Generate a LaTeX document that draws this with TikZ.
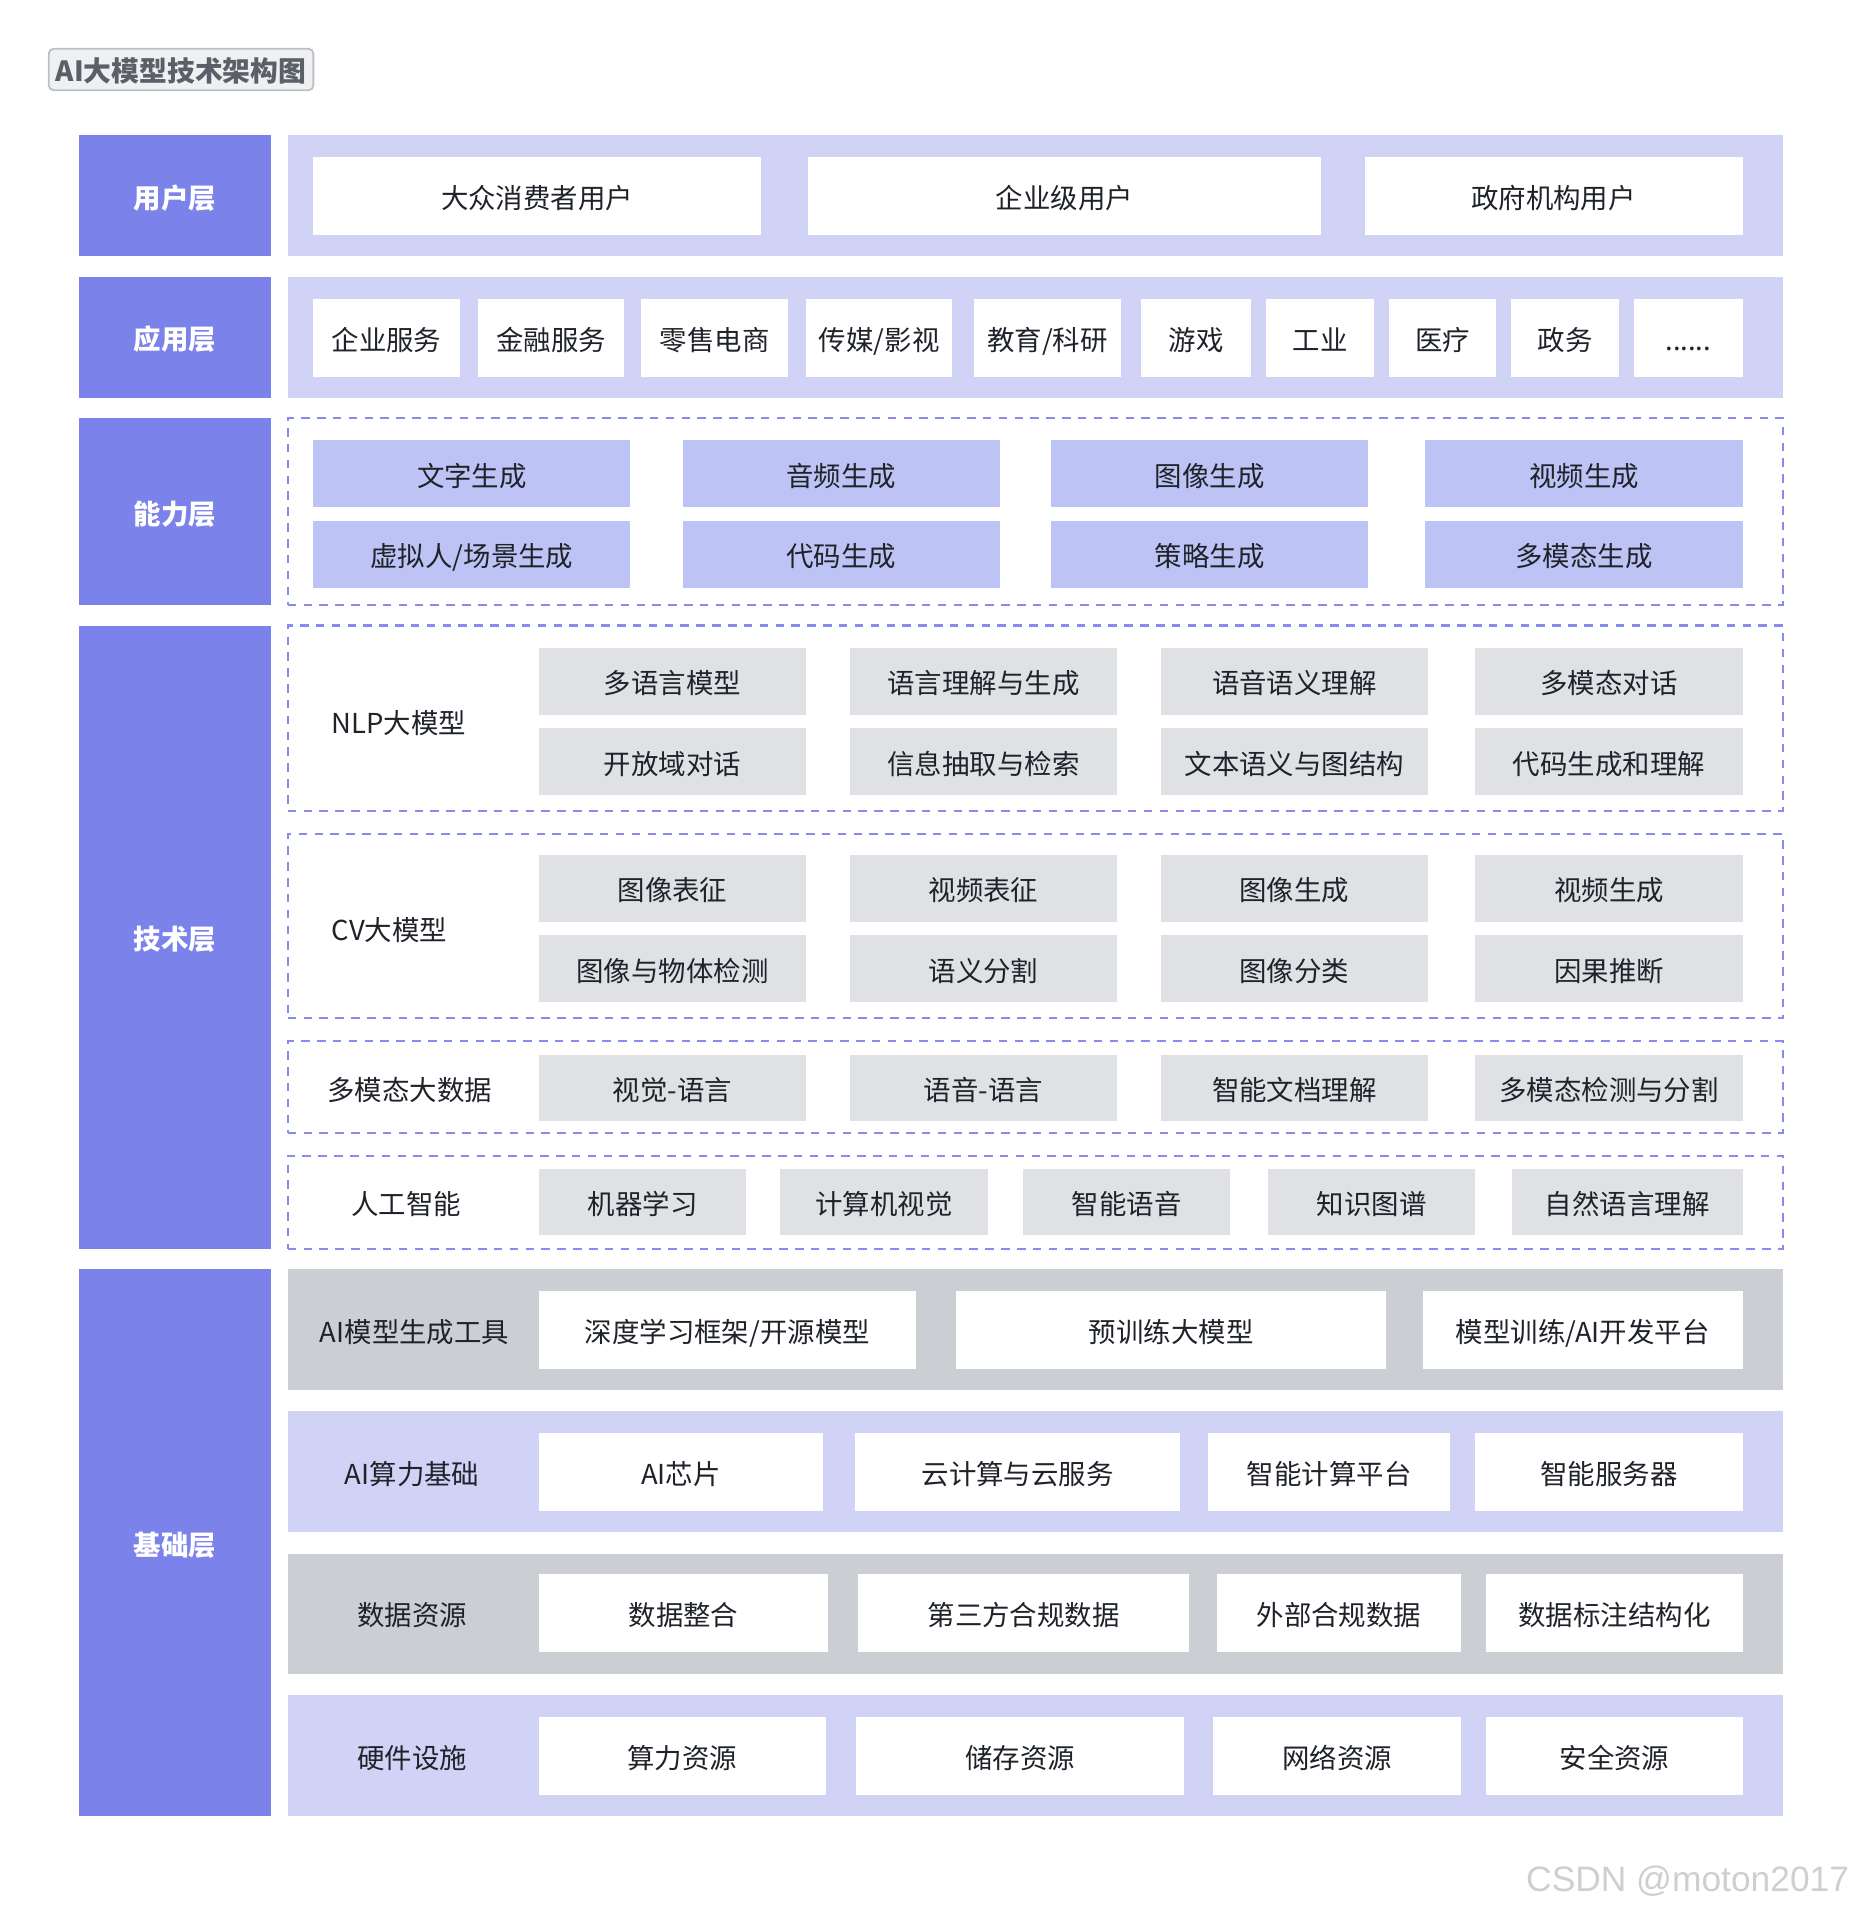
\documentclass[tikz,border=0pt]{standalone}
\usepackage{fontspec}
\setmainfont{Noto Sans CJK SC}
\newfontfamily\markfont{Liberation Sans}
\usepackage{tikz}

\definecolor{layerblue}{HTML}{7B83EB}
\definecolor{dashblue}{HTML}{868CEF}
\definecolor{panelblue}{HTML}{D0D2F6}
\definecolor{abilblue}{HTML}{BEC3F5}
\definecolor{cellgray}{HTML}{E0E1E4}
\definecolor{panelgray}{HTML}{CBCED3}
\definecolor{textdark}{HTML}{1F2329}
\definecolor{titletext}{HTML}{5B6068}
\definecolor{titlefill}{HTML}{EEF0F2}
\definecolor{titleline}{HTML}{BCC0C6}
\definecolor{markgray}{HTML}{CFCFCF}

\tikzset{
  box/.style={inner sep=0pt, outer sep=0pt, anchor=north west, text=textdark,
    text height=20.5pt, text depth=0pt, font=\fontsize{22.5}{27}\selectfont},
  layer/.style={box, fill=layerblue, text=white,
    font=\bfseries\fontsize{22.5}{27}\selectfont, minimum width=157pt},
  panel/.style={box, fill=panelblue, minimum width=1226pt, minimum height=99pt},
  greypanel/.style={panel, fill=panelgray},
  dashframe/.style={box, draw=dashblue, line width=1.8pt,
    dash pattern=on 7pt off 6pt, minimum width=1226pt},
  whitecell/.style={box, fill=white, minimum height=64pt},
  abilcell/.style={box, fill=abilblue, minimum width=260pt, minimum height=55pt},
  techcell/.style={box, fill=cellgray, minimum height=55pt},
  rowlabel/.style={box, anchor=center},
}

\begin{document}
\begin{tikzpicture}[x=1pt,y=-1pt]

    \useasboundingbox[fill=white] (0,0) rectangle (1520,1568);

    % Title
    \node[box, anchor=center, fill=titlefill, draw=titleline, line width=1.5pt,
      rounded corners=4pt, minimum width=217pt, minimum height=34pt,
      text=titletext, text height=19.5pt, font=\bfseries\fontsize{22.8}{27}\selectfont]
      (title) at (148.5,57) {AI大模型技术架构图};

    % User layer
    \node[layer, minimum height=99pt] (ul) at (65,111) {用户层};
    \node[panel] (up) at (236,111) {};

    %% Boxes
    \node[whitecell, minimum width=367pt] (u1) at (257,129) {大众消费者用户};
    \node[whitecell, minimum width=420pt] (u2) at (663,129) {企业级用户};
    \node[whitecell, minimum width=310pt] (u3) at (1119,129) {政府机构用户};

    % Application layer
    \node[layer, minimum height=99pt] (al) at (65,227) {应用层};
    \node[panel] (ap) at (236,227) {};

    %% Boxes
    \node[whitecell, minimum width=120pt] (a1) at (257,245) {企业服务};
    \node[whitecell, minimum width=120pt] (a2) at (392,245) {金融服务};
    \node[whitecell, minimum width=120pt] (a3) at (526,245) {零售电商};
    \node[whitecell, minimum width=120pt] (a4) at (661,245) {传媒/影视};
    \node[whitecell, minimum width=120pt] (a5) at (799,245) {教育/科研};
    \node[whitecell, minimum width=90pt] (a6) at (936,245) {游戏};
    \node[whitecell, minimum width=89pt] (a7) at (1038,245) {工业};
    \node[whitecell, minimum width=88pt] (a8) at (1139,245) {医疗};
    \node[whitecell, minimum width=89pt] (a9) at (1239,245) {政务};
    \node[whitecell, minimum width=89pt] (a10) at (1340,245) {......};

    % Ability layer
    \node[layer, minimum height=153pt] (cl) at (65,343) {能力层};
    \node[dashframe, minimum height=153pt] (cf) at (236,343) {};

    %% First row
    \node[abilcell] (c11) at (257,361) {文字生成};
    \node[abilcell] (c12) at (560,361) {音频生成};
    \node[abilcell] (c13) at (862,361) {图像生成};
    \node[abilcell] (c14) at (1169,361) {视频生成};

    %% Second row
    \node[abilcell] (c21) at (257,427) {虚拟人/场景生成};
    \node[abilcell] (c22) at (560,427) {代码生成};
    \node[abilcell] (c23) at (862,427) {策略生成};
    \node[abilcell] (c24) at (1169,427) {多模态生成};

    % Technology layer
    \node[layer, minimum height=511pt] (tl) at (65,513) {技术层};

    %% NLP models
    \node[dashframe, minimum height=152pt] (nf) at (236,513) {};
    \node[box, anchor=west] (nlab) at (272,591) {NLP大模型};
    \node[techcell, minimum width=219pt] (n11) at (442,531) {多语言模型};
    \node[techcell, minimum width=219pt] (n12) at (697,531) {语言理解与生成};
    \node[techcell, minimum width=219pt] (n13) at (952,531) {语音语义理解};
    \node[techcell, minimum width=219pt] (n14) at (1210,531) {多模态对话};
    \node[techcell, minimum width=219pt] (n21) at (442,597) {开放域对话};
    \node[techcell, minimum width=219pt] (n22) at (697,597) {信息抽取与检索};
    \node[techcell, minimum width=219pt] (n23) at (952,597) {文本语义与图结构};
    \node[techcell, minimum width=219pt] (n24) at (1210,597) {代码生成和理解};

    %% CV models
    \node[dashframe, minimum height=151pt] (vf) at (236,684) {};
    \node[box, anchor=west] (vlab) at (272,761) {CV大模型};
    \node[techcell, minimum width=219pt] (v11) at (442,701) {图像表征};
    \node[techcell, minimum width=219pt] (v12) at (697,701) {视频表征};
    \node[techcell, minimum width=219pt] (v13) at (952,701) {图像生成};
    \node[techcell, minimum width=219pt] (v14) at (1210,701) {视频生成};
    \node[techcell, minimum width=219pt] (v21) at (442,767) {图像与物体检测};
    \node[techcell, minimum width=219pt] (v22) at (697,767) {语义分割};
    \node[techcell, minimum width=219pt] (v23) at (952,767) {图像分类};
    \node[techcell, minimum width=219pt] (v24) at (1210,767) {因果推断};

    %% Multimodal data
    \node[dashframe, minimum height=75pt] (mf) at (236,854) {};
    \node[rowlabel] (mlab) at (336,892) {多模态大数据};
    \node[techcell, minimum width=219pt, minimum height=54pt] (m1) at (442,865) {视觉-语言};
    \node[techcell, minimum width=219pt, minimum height=54pt] (m2) at (697,865) {语音-语言};
    \node[techcell, minimum width=219pt, minimum height=54pt] (m3) at (952,865) {智能文档理解};
    \node[techcell, minimum width=219pt, minimum height=54pt] (m4) at (1210,865) {多模态检测与分割};

    %% Artificial intelligence
    \node[dashframe, minimum height=76pt] (if) at (236,948) {};
    \node[rowlabel] (ilab) at (333,986) {人工智能};
    \node[techcell, minimum width=170pt, minimum height=54pt] (i1) at (442,959) {机器学习};
    \node[techcell, minimum width=170pt, minimum height=54pt] (i2) at (640,959) {计算机视觉};
    \node[techcell, minimum width=170pt, minimum height=54pt] (i3) at (839,959) {智能语音};
    \node[techcell, minimum width=170pt, minimum height=54pt] (i4) at (1040,959) {知识图谱};
    \node[techcell, minimum width=189pt, minimum height=54pt] (i5) at (1240,959) {自然语言理解};

    % Foundation layer
    \node[layer, minimum height=448pt] (bl) at (65,1041) {基础层};

    %% Model tools
    \node[greypanel] (tp) at (236,1041) {};
    \node[rowlabel] (tlab) at (340,1091) {AI模型生成工具};
    \node[whitecell, minimum width=309pt] (t1) at (442,1059) {深度学习框架/开源模型};
    \node[whitecell, minimum width=353pt] (t2) at (784,1059) {预训练大模型};
    \node[whitecell, minimum width=262pt] (t3) at (1167,1059) {模型训练/AI开发平台};

    %% Computing power
    \node[panel] (pp) at (236,1157) {};
    \node[rowlabel] (plab) at (338,1207) {AI算力基础};
    \node[whitecell, minimum width=233pt] (p1) at (442,1175) {AI芯片};
    \node[whitecell, minimum width=267pt] (p2) at (701,1175) {云计算与云服务};
    \node[whitecell, minimum width=198pt] (p3) at (991,1175) {智能计算平台};
    \node[whitecell, minimum width=219pt] (p4) at (1210,1175) {智能服务器};

    %% Data resources
    \node[greypanel] (dp) at (236,1274) {};
    \node[rowlabel] (dlab) at (338,1323) {数据资源};
    \node[whitecell, minimum width=237pt] (d1) at (442,1291) {数据整合};
    \node[whitecell, minimum width=271pt] (d2) at (704,1291) {第三方合规数据};
    \node[whitecell, minimum width=200pt] (d3) at (998,1291) {外部合规数据};
    \node[whitecell, minimum width=210pt] (d4) at (1219,1291) {数据标注结构化};

    %% Hardware
    \node[panel] (hp) at (236,1390) {};
    \node[rowlabel] (hlab) at (338,1440) {硬件设施};
    \node[whitecell, minimum width=235pt] (h1) at (442,1408) {算力资源};
    \node[whitecell, minimum width=269pt] (h2) at (702,1408) {储存资源};
    \node[whitecell, minimum width=203pt] (h3) at (995,1408) {网络资源};
    \node[whitecell, minimum width=210pt] (h4) at (1219,1408) {安全资源};

    % Watermark
    \node[box, anchor=center, text=markgray, text height=21pt,
      font=\markfont\fontsize{29}{33}\selectfont]
      (wm) at (1384,1541) {CSDN @moton2017};

\end{tikzpicture}
\end{document}
